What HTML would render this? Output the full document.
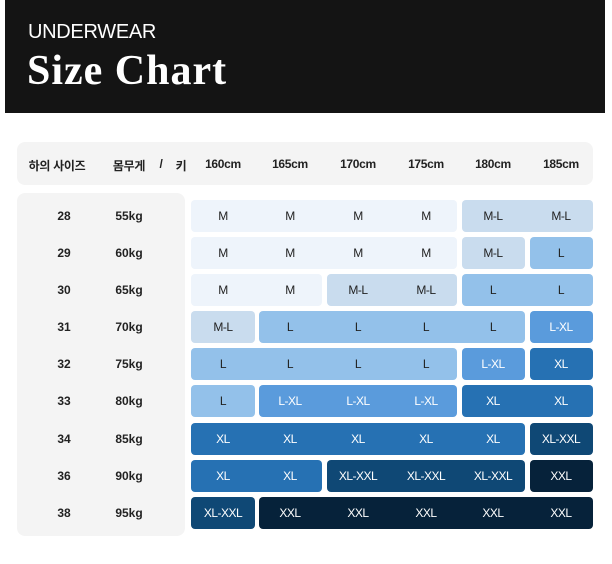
<!DOCTYPE html>
<html><head><meta charset="utf-8"><style>
body{margin:0;width:612px;height:564px;background:#fff;position:relative;overflow:hidden;font-family:"Liberation Sans","Noto Sans CJK KR",sans-serif}
.a{position:absolute}
.hd{left:5px;top:0;width:600px;height:113px;background:#141414}
.t1{left:28px;top:21px;color:#fff;font-size:20px;letter-spacing:-0.3px}
.t2{left:27px;top:47px;color:#fff;font-family:"Liberation Serif","DejaVu Serif",serif;font-weight:bold;font-size:42px;letter-spacing:1px}
.hb{left:17px;top:142px;width:576px;height:43px;background:#f4f4f4;border-radius:8px}
.lb{left:17px;top:193px;width:168px;height:343px;background:#f4f4f4;border-radius:8px}
.h{top:157px;font-size:12px;font-weight:bold;color:#222;transform:translateX(-50%);white-space:nowrap;letter-spacing:-0.3px}
.s{height:32px;border-radius:4px}
.c{width:64px;height:32px;line-height:32px;text-align:center;font-size:12px;letter-spacing:-0.5px;transform:translateX(-50%)}
.w{color:#fff}
.k{color:#222}
.m{background:#eef4fb}.ml{background:#c9dcee}.l{background:#93c1ea}.lx{background:#5a9bdc}.x{background:#2671b3}.xx{background:#0f4875}.xxl{background:#06223a}
.rl{width:60px;height:32px;line-height:32px;text-align:center;font-size:12px;font-weight:bold;color:#222;transform:translateX(-50%)}
</style></head><body>
<div class="a hd"></div>
<div class="a t1">UNDERWEAR</div>
<div class="a t2">Size Chart</div>
<div class="a hb"></div>
<div class="a lb"></div>
<div class="a h" style="left:57px">하의 사이즈</div>
<div class="a h" style="left:129px">몸무게</div>
<div class="a h" style="left:161px">/</div>
<div class="a h" style="left:181px">키</div>
<div class="a h" style="left:223px">160cm</div>
<div class="a h" style="left:290px">165cm</div>
<div class="a h" style="left:358px">170cm</div>
<div class="a h" style="left:426px">175cm</div>
<div class="a h" style="left:493px">180cm</div>
<div class="a h" style="left:561px">185cm</div>

<div class="a rl" style="left:64px;top:200px">28</div><div class="a rl" style="left:129px;top:200px">55kg</div>
<div class="a rl" style="left:64px;top:237px">29</div><div class="a rl" style="left:129px;top:237px">60kg</div>
<div class="a rl" style="left:64px;top:274px">30</div><div class="a rl" style="left:129px;top:274px">65kg</div>
<div class="a rl" style="left:64px;top:311px">31</div><div class="a rl" style="left:129px;top:311px">70kg</div>
<div class="a rl" style="left:64px;top:348px">32</div><div class="a rl" style="left:129px;top:348px">75kg</div>
<div class="a rl" style="left:64px;top:385px">33</div><div class="a rl" style="left:129px;top:385px">80kg</div>
<div class="a rl" style="left:64px;top:423px">34</div><div class="a rl" style="left:129px;top:423px">85kg</div>
<div class="a rl" style="left:64px;top:460px">36</div><div class="a rl" style="left:129px;top:460px">90kg</div>
<div class="a rl" style="left:64px;top:497px">38</div><div class="a rl" style="left:129px;top:497px">95kg</div>

<div class="a s m" style="left:191px;top:200px;width:266px"></div>
<div class="a s ml" style="left:462px;top:200px;width:131px"></div>
<div class="a c k" style="left:223px;top:200px">M</div><div class="a c k" style="left:290px;top:200px">M</div><div class="a c k" style="left:358px;top:200px">M</div><div class="a c k" style="left:426px;top:200px">M</div><div class="a c k" style="left:493px;top:200px">M-L</div><div class="a c k" style="left:561px;top:200px">M-L</div>
<div class="a s m" style="left:191px;top:237px;width:266px"></div>
<div class="a s ml" style="left:462px;top:237px;width:63px"></div>
<div class="a s l" style="left:530px;top:237px;width:63px"></div>
<div class="a c k" style="left:223px;top:237px">M</div><div class="a c k" style="left:290px;top:237px">M</div><div class="a c k" style="left:358px;top:237px">M</div><div class="a c k" style="left:426px;top:237px">M</div><div class="a c k" style="left:493px;top:237px">M-L</div><div class="a c k" style="left:561px;top:237px">L</div>
<div class="a s m" style="left:191px;top:274px;width:131px"></div>
<div class="a s ml" style="left:327px;top:274px;width:130px"></div>
<div class="a s l" style="left:462px;top:274px;width:131px"></div>
<div class="a c k" style="left:223px;top:274px">M</div><div class="a c k" style="left:290px;top:274px">M</div><div class="a c k" style="left:358px;top:274px">M-L</div><div class="a c k" style="left:426px;top:274px">M-L</div><div class="a c k" style="left:493px;top:274px">L</div><div class="a c k" style="left:561px;top:274px">L</div>
<div class="a s ml" style="left:191px;top:311px;width:64px"></div>
<div class="a s l" style="left:259px;top:311px;width:266px"></div>
<div class="a s lx" style="left:530px;top:311px;width:63px"></div>
<div class="a c k" style="left:223px;top:311px">M-L</div><div class="a c k" style="left:290px;top:311px">L</div><div class="a c k" style="left:358px;top:311px">L</div><div class="a c k" style="left:426px;top:311px">L</div><div class="a c k" style="left:493px;top:311px">L</div><div class="a c w" style="left:561px;top:311px">L-XL</div>
<div class="a s l" style="left:191px;top:348px;width:266px"></div>
<div class="a s lx" style="left:462px;top:348px;width:63px"></div>
<div class="a s x" style="left:530px;top:348px;width:63px"></div>
<div class="a c k" style="left:223px;top:348px">L</div><div class="a c k" style="left:290px;top:348px">L</div><div class="a c k" style="left:358px;top:348px">L</div><div class="a c k" style="left:426px;top:348px">L</div><div class="a c w" style="left:493px;top:348px">L-XL</div><div class="a c w" style="left:561px;top:348px">XL</div>
<div class="a s l" style="left:191px;top:385px;width:64px"></div>
<div class="a s lx" style="left:259px;top:385px;width:198px"></div>
<div class="a s x" style="left:462px;top:385px;width:131px"></div>
<div class="a c k" style="left:223px;top:385px">L</div><div class="a c w" style="left:290px;top:385px">L-XL</div><div class="a c w" style="left:358px;top:385px">L-XL</div><div class="a c w" style="left:426px;top:385px">L-XL</div><div class="a c w" style="left:493px;top:385px">XL</div><div class="a c w" style="left:561px;top:385px">XL</div>
<div class="a s x" style="left:191px;top:423px;width:334px"></div>
<div class="a s xx" style="left:530px;top:423px;width:63px"></div>
<div class="a c w" style="left:223px;top:423px">XL</div><div class="a c w" style="left:290px;top:423px">XL</div><div class="a c w" style="left:358px;top:423px">XL</div><div class="a c w" style="left:426px;top:423px">XL</div><div class="a c w" style="left:493px;top:423px">XL</div><div class="a c w" style="left:561px;top:423px">XL-XXL</div>
<div class="a s x" style="left:191px;top:460px;width:131px"></div>
<div class="a s xx" style="left:327px;top:460px;width:198px"></div>
<div class="a s xxl" style="left:530px;top:460px;width:63px"></div>
<div class="a c w" style="left:223px;top:460px">XL</div><div class="a c w" style="left:290px;top:460px">XL</div><div class="a c w" style="left:358px;top:460px">XL-XXL</div><div class="a c w" style="left:426px;top:460px">XL-XXL</div><div class="a c w" style="left:493px;top:460px">XL-XXL</div><div class="a c w" style="left:561px;top:460px">XXL</div>
<div class="a s xx" style="left:191px;top:497px;width:64px"></div>
<div class="a s xxl" style="left:259px;top:497px;width:334px"></div>
<div class="a c w" style="left:223px;top:497px">XL-XXL</div><div class="a c w" style="left:290px;top:497px">XXL</div><div class="a c w" style="left:358px;top:497px">XXL</div><div class="a c w" style="left:426px;top:497px">XXL</div><div class="a c w" style="left:493px;top:497px">XXL</div><div class="a c w" style="left:561px;top:497px">XXL</div>
</body></html>
